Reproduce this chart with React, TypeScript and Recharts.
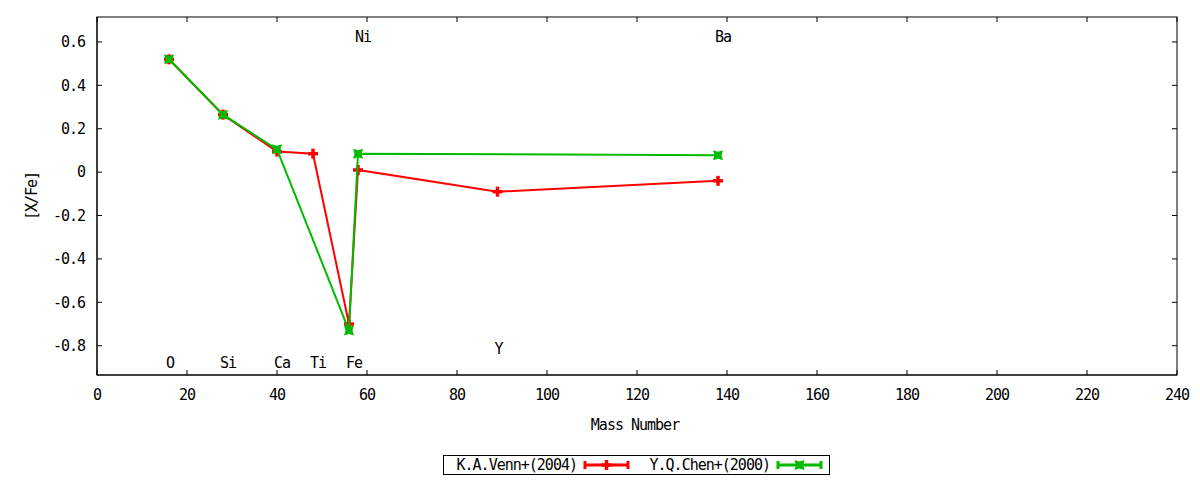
import { ComposedChart, Scatter, XAxis, YAxis, Label, ReferenceArea } from "recharts";

const FONT = "'DejaVu Sans Mono', monospace";
const FONT_SIZE = 15;
const LETTER = "-1px";

// [X/Fe] abundances against mass number
const vennMass = [16, 28, 40, 48, 56, 58, 89, 138];
const vennXFe = [0.52, 0.265, 0.095, 0.085, -0.7, 0.01, -0.09, -0.04];
const chenMass = [16, 28, 40, 56, 58, 138];
const chenXFe = [0.52, 0.265, 0.105, -0.73, 0.085, 0.078];

// element annotations (data coordinates)
const elementNames = ["O", "Si", "Ca", "Ti", "Fe", "Ni", "Y", "Ba"];
const elementMass = [16, 28, 40, 48, 56, 58, 89, 138];
const elementLabelY = [-0.878, -0.878, -0.878, -0.878, -0.878, 0.623, -0.814, 0.623];

const xTicks = [0, 20, 40, 60, 80, 100, 120, 140, 160, 180, 200, 220, 240];
const yTicks = [-0.8, -0.6, -0.4, -0.2, 0, 0.2, 0.4, 0.6];
const X_DOMAIN = [0, 240];
const Y_DOMAIN = [-0.935, 0.715];

const toPoints = (xs: number[], ys: number[]) => xs.map((x, i) => ({ x, y: ys[i] }));
const vennData = toPoints(vennMass, vennXFe);
const chenData = toPoints(chenMass, chenXFe);
const labelData = elementNames.map((name, i) => ({ x: elementMass[i], y: elementLabelY[i], name }));

const RED = "#ff0000";
const GREEN = "#00bb00";

function PlusMark({ cx, cy, color }: { cx: number; cy: number; color: string }) {
  return (
    <g stroke={color} strokeWidth={3.5}>
      <line x1={cx - 5} y1={cy} x2={cx + 5} y2={cy} />
      <line x1={cx} y1={cy - 5} x2={cx} y2={cy + 5} />
    </g>
  );
}

// thick "x" as gnuplot draws it at this size: a box with small notches
function CrossMark({ cx, cy, color }: { cx: number; cy: number; color: string }) {
  const r = 5;
  const n = 3.5;
  const pts = [
    [-r, -r], [0, -n], [r, -r], [n, 0], [r, r], [0, n], [-r, r], [-n, 0],
  ]
    .map(([dx, dy]) => `${cx + dx},${cy + dy}`)
    .join(" ");
  return <polygon points={pts} fill={color} />;
}

const series = [
  { name: "K.A.Venn+(2004)", data: vennData, color: RED, Mark: PlusMark },
  { name: "Y.Q.Chen+(2000)", data: chenData, color: GREEN, Mark: CrossMark },
];

const TICK_LEN = 5;

const txt = { fontFamily: FONT, fontSize: FONT_SIZE, letterSpacing: LETTER, fill: "#000" };

function BottomTick({ x, y, payload }: any) {
  return (
    <g>
      <line x1={x} y1={y} x2={x} y2={y - TICK_LEN} stroke="#000" />
      <text x={x} y={y + 20} dy="0.35em" textAnchor="middle" {...txt}>
        {payload.value}
      </text>
    </g>
  );
}

function LeftTick({ x, y, payload }: any) {
  const v = Math.round(payload.value * 10) / 10;
  return (
    <g>
      <line x1={x} y1={y} x2={x + TICK_LEN} y2={y} stroke="#000" />
      <text x={x - 12} y={y} dy="0.35em" textAnchor="end" {...txt}>
        {v === 0 ? "0" : v.toFixed(1)}
      </text>
    </g>
  );
}

// plot border with gnuplot-style mirrored ticks on the top and right edges
function Frame({ x, y, width, height }: any) {
  const sx = (v: number) => x + ((v - X_DOMAIN[0]) / (X_DOMAIN[1] - X_DOMAIN[0])) * width;
  const sy = (v: number) => y + height - ((v - Y_DOMAIN[0]) / (Y_DOMAIN[1] - Y_DOMAIN[0])) * height;
  const right = x + width;
  return (
    <g stroke="#000" fill="none">
      <rect x={x} y={y} width={width} height={height} />
      {xTicks.map((t) => (
        <line key={"t" + t} x1={sx(t)} y1={y} x2={sx(t)} y2={y + TICK_LEN} />
      ))}
      {yTicks.map((t) => (
        <line key={"r" + t} x1={right} y1={sy(t)} x2={right - TICK_LEN} y2={sy(t)} />
      ))}
    </g>
  );
}

function LegendBox() {
  const left = 443;
  const top = 455;
  return (
    <svg width={1200} height={480} style={{ position: "absolute", left: 0, top: 0, pointerEvents: "none" }}>
      <rect x={left + 0.5} y={top + 0.5} width={386} height={19} fill="none" stroke="#000" />
      {series.map((s, i) => {
        const textEnd = 577 + i * 193;
        const x1 = textEnd + 8;
        const x2 = x1 + 43;
        const cy = top + 10;
        const Mark = s.Mark;
        return (
          <g key={s.name}>
            <text x={textEnd} y={cy} dy="0.35em" textAnchor="end" {...txt}>
              {s.name}
            </text>
            <g stroke={s.color} strokeWidth={3}>
              <line x1={x1} y1={cy} x2={x2} y2={cy} />
              <line x1={x1} y1={cy - 4} x2={x1} y2={cy + 4} />
              <line x1={x2} y1={cy - 4} x2={x2} y2={cy + 4} />
            </g>
            <Mark cx={(x1 + x2) / 2} cy={cy} color={s.color} />
          </g>
        );
      })}
    </svg>
  );
}

export default function App() {
  return (
    <div style={{ position: "absolute", left: 0, top: 0, width: 1200, height: 480, background: "#fff" }}>
      <ComposedChart width={1200} height={480} margin={{ top: 17, right: 23, bottom: 0, left: 0 }}>
        <XAxis
          type="number"
          dataKey="x"
          domain={X_DOMAIN}
          ticks={xTicks}
          allowDataOverflow
          height={105}
          tickSize={0}
          tickMargin={0}
          tickLine={false}
          tick={<BottomTick />}
          axisLine={{ stroke: "#000" }}
        >
          <Label
            content={() => (
              <text x={635} y={425} dy="0.35em" textAnchor="middle" {...txt}>
                Mass Number
              </text>
            )}
          />
        </XAxis>
        <YAxis
          type="number"
          dataKey="y"
          domain={Y_DOMAIN}
          ticks={yTicks}
          allowDataOverflow
          width={97}
          tickSize={0}
          tickMargin={0}
          tickLine={false}
          tick={<LeftTick />}
          axisLine={{ stroke: "#000" }}
        >
          <Label
            content={() => (
              <text x={32} y={196} dy="0.35em" textAnchor="middle" transform="rotate(-90 32 196)" {...txt}>
                [X/Fe]
              </text>
            )}
          />
        </YAxis>
        <ReferenceArea
          x1={X_DOMAIN[0]}
          x2={X_DOMAIN[1]}
          y1={Y_DOMAIN[0]}
          y2={Y_DOMAIN[1]}
          ifOverflow="visible"
          shape={<Frame />}
        />
        <Scatter
          data={labelData}
          isAnimationActive={false}
          shape={(p: any) => (
            <text x={p.cx - 3} y={p.cy} dy="0.35em" textAnchor="start" {...txt}>
              {p.payload.name}
            </text>
          )}
        />
        {series.map((s) => (
          <Scatter
            key={s.name}
            name={s.name}
            data={s.data}
            isAnimationActive={false}
            line={{ stroke: s.color, strokeWidth: 2 }}
            lineJointType="linear"
            shape={(p: any) => <s.Mark cx={p.cx} cy={p.cy} color={s.color} />}
          />
        ))}
      </ComposedChart>
      <LegendBox />
    </div>
  );
}
